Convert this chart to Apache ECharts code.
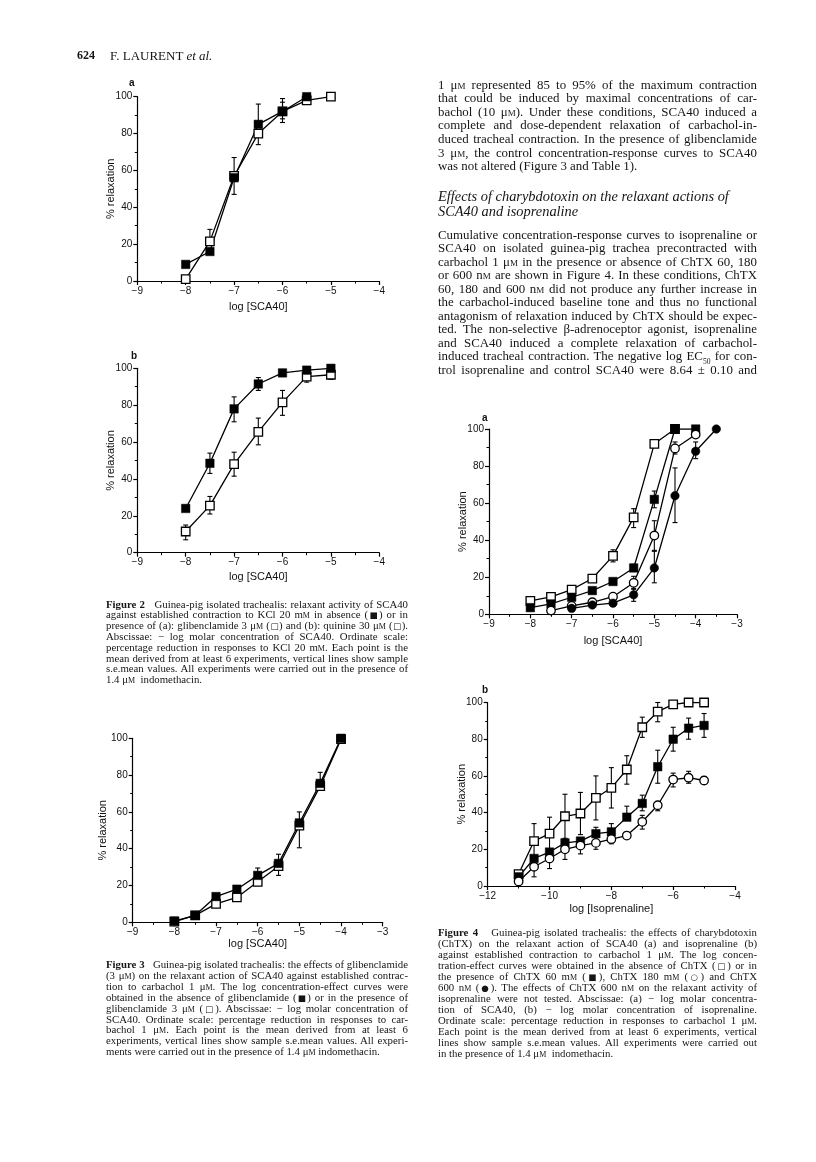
<!DOCTYPE html>
<html><head><meta charset="utf-8">
<script src="https://cdn.jsdelivr.net/npm/echarts@6/dist/echarts.min.js"></script>
<style>
html,body{margin:0;padding:0;background:#fff;}
#page{position:relative;width:816px;height:1162px;overflow:hidden;background:#fff;}
#chart{position:absolute;left:0;top:0;width:816px;height:1162px;}
.t{position:absolute;font-family:"Liberation Serif","DejaVu Serif",serif;color:#151515;white-space:nowrap;}
.j{text-align:justify;text-align-last:justify;}
.sc{font-variant:small-caps;}
.g{font-family:"DejaVu Sans",sans-serif;font-size:0.8em;}
</style></head><body>
<div id="page"><div id="chart"></div><div id="text"></div></div>
<script>
// ---------- DATA ----------
// Figure 2a
const x2 = [-8, -7.5, -7, -6.5, -6, -5.5, -5];
const f2a_ctrl = [9, 16, 56, 85, 92, 100, null];
const f2a_ctrl_hi = [null, null, null, 96, 97, null, null];
const f2a_ctrl_lo = [null, null, null, null, 88, null, null];
const f2a_glib = [1, 21.5, 57, 80, 92, 98, 100];
const f2a_glib_hi = [null, 28, 67, null, 99, null, null];
const f2a_glib_lo = [null, null, 47, 74, 86, null, null];
// Figure 2b
const f2b_ctrl = [24, 48.5, 78, 91.5, 97.5, 99, 100];
const f2b_ctrl_hi = [null, 54, 84.5, 95, null, null, null];
const f2b_ctrl_lo = [null, 43, 71, 88, null, null, null];
const f2b_quin = [11.5, 25.5, 48, 65.5, 81.5, 95.5, 96.5];
const f2b_quin_hi = [15, 30.5, 54.5, 73, 88, null, null];
const f2b_quin_lo = [7, 21, 41.5, 58.5, 74.5, 92.5, 94];
// Figure 3
const x3 = [-8, -7.5, -7, -6.5, -6, -5.5, -5, -4.5, -4];
const f3_ctrl = [0.7, 3.8, 14, 18, 25.5, 32, 54, 75.5, 100];
const f3_ctrl_hi = [null, null, null, null, 29.5, 37, 60, 81.5, null];
const f3_glib = [0.4, 3.8, 10, 13.5, 22, 30.5, 52.5, 74, 99.5];
const f3_glib_lo = [null, null, null, null, null, 25.5, 40.5, null, null];
// Figure 4a
const x4a = [-8, -7.5, -7, -6.5, -6, -5.5, -5, -4.5, -4, -3.5];
const f4a_ctrl = [7.2, 9.4, 13.3, 19.3, 31.5, 52.3, 92, 100, null, null];
const f4a_ctrl_hi = [null, null, null, null, 34.8, 57, 94, null, null, null];
const f4a_ctrl_lo = [null, null, null, null, 28.3, 46.8, null, null, null, null];
const f4a_ch60 = [3.6, 5.6, 9.2, 12.8, 17.7, 25, 62, 100, 100, null];
const f4a_ch60_hi = [null, null, null, null, null, 27, 66.5, null, null, null];
const f4a_ch60_lo = [null, null, null, null, null, null, 57.5, null, null, null];
const f4a_ch180 = [null, 2, 4.5, 6.5, 9.5, 17, 42.5, 89.5, 97, null];
const f4a_ch180_hi = [null, null, null, null, null, 20.5, 50.5, 93, null, null];
const f4a_ch180_lo = [null, null, null, null, null, 13.5, 34.5, 86.5, null, null];
const f4a_ch600 = [null, null, 3.2, 5, 6, 10.5, 25, 64, 88, 100];
const f4a_ch600_hi = [null, null, null, null, null, 14, 34, 79, 93, null];
const f4a_ch600_lo = [null, null, null, null, null, 7, 17, 49.5, 84, null];
// Figure 4b
const x4b = [-11, -10.5, -10, -9.5, -9, -8.5, -8, -7.5, -7, -6.5, -6, -5.5, -5];
const f4b_ctrl = [6.5, 24.5, 28.5, 38, 39.5, 48, 53.5, 63.5, 86.5, 95, 99, 100, 100];
const f4b_ctrl_hi = [null, 34, 37.5, 50, 51, 60, 64.5, 71, 92, 100, null, null, null];
const f4b_ctrl_lo = [null, 15, 19, 26, 28, 36, 42.5, 55.5, 81, 89.5, null, null, null];
const f4b_ch60 = [5, 15, 18.5, 23.5, 24.5, 28.5, 29.5, 37.5, 45, 65, 80, 86, 87.5];
const f4b_ch60_hi = [null, null, null, null, null, 32, 34, 43.5, 49.5, 74, 86.5, 91.5, 94];
const f4b_ch60_lo = [null, null, null, null, null, null, null, null, 41, 56, 73.5, 80, 81];
const f4b_ch180 = [2.5, 10.5, 15, 20, 22, 23.5, 25.5, 27.5, 35, 44, 58, 59, 57.5];
const f4b_ch180_hi = [null, null, null, null, null, null, null, null, 38.5, null, 61.5, 62.5, 59.5];
const f4b_ch180_lo = [null, 5, 9.5, 14.5, 17.5, 20, 23, null, 31, 41, 54, 56, 55.5];

// ---------- HELPERS ----------
const FONT = '"Liberation Sans", Arial, sans-serif';
function fmt(v){ return String(v).replace('-', '\u2212'); }
function xAx(gi, min, max, interval, name, gap){
  return {type:'value', gridIndex:gi, min:min, max:max, interval:interval,
    name:name, nameLocation:'middle', nameGap:gap, nameMoveOverlap:false,
    nameTextStyle:{fontFamily:FONT, fontSize:11, color:'#111'},
    axisLine:{show:true, onZero:false, lineStyle:{color:'#000', width:1.2}},
    axisTick:{show:true, length:4, lineStyle:{color:'#000', width:1.2}},
    minorTick:{show:true, splitNumber:2, length:2.5, lineStyle:{color:'#000', width:1}},
    splitLine:{show:false}, minorSplitLine:{show:false},
    axisLabel:{fontFamily:FONT, fontSize:10, color:'#111', margin:5, formatter:fmt}};
}
function yAx(gi, gap){
  return {type:'value', gridIndex:gi, min:0, max:100, interval:20,
    name:'% relaxation', nameLocation:'middle', nameGap:gap, nameRotate:90, nameMoveOverlap:false,
    nameTextStyle:{fontFamily:FONT, fontSize:11, color:'#111'},
    axisLine:{show:true, onZero:false, lineStyle:{color:'#000', width:1.2}},
    axisTick:{show:true, length:4, lineStyle:{color:'#000', width:1.2}},
    minorTick:{show:true, splitNumber:2, length:2.5, lineStyle:{color:'#000', width:1}},
    splitLine:{show:false}, minorSplitLine:{show:false},
    axisLabel:{fontFamily:FONT, fontSize:10, color:'#111', margin:5, formatter:fmt}};
}
function line(gi, xs, ys, sym, filled){
  return {type:'line', xAxisIndex:gi, yAxisIndex:gi, silent:true, z:3,
    data: xs.map((x,i)=>[x, ys[i]]).filter(d=>d[1]!=null),
    symbol:sym, symbolSize:8.5, showAllSymbol:true,
    lineStyle:{color:'#000', width:1.3},
    itemStyle:{color: filled?'#000':'#fff', borderColor:'#000', borderWidth: filled?0.5:1.3, opacity:1},
    emphasis:{disabled:true}};
}
function errData(xs, ys, hi, lo){
  const out=[];
  xs.forEach((x,i)=>{
    const h = hi ? hi[i] : null, l = lo ? lo[i] : null;
    if (h==null && l==null) return;
    out.push([x, l!=null?l:ys[i], h!=null?h:ys[i], l!=null?1:0, h!=null?1:0]);
  });
  return out;
}
function err(gi, xs, ys, hi, lo){
  return {type:'custom', xAxisIndex:gi, yAxisIndex:gi, silent:true, z:2,
    data: errData(xs, ys, hi, lo), encode:{x:0, y:[1,2]},
    renderItem:function(params, api){
      const x=api.value(0), lo=api.value(1), hi=api.value(2);
      const a=api.coord([x,lo]), b=api.coord([x,hi]);
      const st={stroke:'#000', lineWidth:1.1};
      const ch=[{type:'line', shape:{x1:a[0],y1:a[1],x2:b[0],y2:b[1]}, style:st}];
      if (api.value(3)) ch.push({type:'line', shape:{x1:a[0]-2.5,y1:a[1],x2:a[0]+2.5,y2:a[1]}, style:st});
      if (api.value(4)) ch.push({type:'line', shape:{x1:b[0]-2.5,y1:b[1],x2:b[0]+2.5,y2:b[1]}, style:st});
      return {type:'group', children:ch};
    }};
}

// ---------- CHART ----------
const chart = echarts.init(document.getElementById('chart'), null, {renderer:'canvas', width:816, height:1162});
const option = {
  animation:false,
  backgroundColor:'transparent',
  grid:[
    {left:137.3, top:96.7, width:242, height:184.3, outerBoundsMode:'none'},
    {left:137.3, top:368.3, width:242, height:184.4, outerBoundsMode:'none'},
    {left:132.7, top:738.3, width:250, height:184, outerBoundsMode:'none'},
    {left:489, top:429, width:248, height:185.3, outerBoundsMode:'none'},
    {left:487.7, top:702.5, width:247.3, height:183.5, outerBoundsMode:'none'}
  ],
  xAxis:[
    xAx(0, -9, -4, 1, 'log [SCA40]', 20),
    xAx(1, -9, -4, 1, 'log [SCA40]', 18.5),
    xAx(2, -9, -3, 1, 'log [SCA40]', 16),
    xAx(3, -9, -3, 1, 'log [SCA40]', 21),
    xAx(4, -12, -4, 2, 'log [Isoprenaline]', 17.5)
  ],
  yAxis:[yAx(0, 21), yAx(1, 21), yAx(2, 24), yAx(3, 21), yAx(4, 20)],
  graphic:[
    {type:'text', left:129, top:78, style:{text:'a', font:'bold 10px "Liberation Sans"', fill:'#111'}},
    {type:'text', left:131, top:351, style:{text:'b', font:'bold 10px "Liberation Sans"', fill:'#111'}},
    {type:'text', left:482, top:413, style:{text:'a', font:'bold 10px "Liberation Sans"', fill:'#111'}},
    {type:'text', left:482, top:685, style:{text:'b', font:'bold 10px "Liberation Sans"', fill:'#111'}}
  ],
  series:[
    err(0, x2, f2a_glib, f2a_glib_hi, f2a_glib_lo),
    err(0, x2, f2a_ctrl, f2a_ctrl_hi, f2a_ctrl_lo),
    line(0, x2, f2a_glib, 'rect', false),
    line(0, x2, f2a_ctrl, 'rect', true),

    err(1, x2, f2b_quin, f2b_quin_hi, f2b_quin_lo),
    err(1, x2, f2b_ctrl, f2b_ctrl_hi, f2b_ctrl_lo),
    line(1, x2, f2b_quin, 'rect', false),
    line(1, x2, f2b_ctrl, 'rect', true),

    err(2, x3, f3_glib, null, f3_glib_lo),
    err(2, x3, f3_ctrl, f3_ctrl_hi, null),
    line(2, x3, f3_glib, 'rect', false),
    line(2, x3, f3_ctrl, 'rect', true),

    err(3, x4a, f4a_ctrl, f4a_ctrl_hi, f4a_ctrl_lo),
    err(3, x4a, f4a_ch60, f4a_ch60_hi, f4a_ch60_lo),
    err(3, x4a, f4a_ch180, f4a_ch180_hi, f4a_ch180_lo),
    err(3, x4a, f4a_ch600, f4a_ch600_hi, f4a_ch600_lo),
    line(3, x4a, f4a_ctrl, 'rect', false),
    line(3, x4a, f4a_ch60, 'rect', true),
    line(3, x4a, f4a_ch180, 'circle', false),
    line(3, x4a, f4a_ch600, 'circle', true),

    err(4, x4b, f4b_ctrl, f4b_ctrl_hi, f4b_ctrl_lo),
    err(4, x4b, f4b_ch60, f4b_ch60_hi, f4b_ch60_lo),
    err(4, x4b, f4b_ch180, f4b_ch180_hi, f4b_ch180_lo),
    line(4, x4b, f4b_ctrl, 'rect', false),
    line(4, x4b, f4b_ch60, 'rect', true),
    line(4, x4b, f4b_ch180, 'circle', false)
  ]
};
chart.setOption(option);

// ---------- TEXT ----------
const M = 'μ<span class="sc">m</span>';
const mm = 'm<span class="sc">m</span>';
const nm = 'n<span class="sc">m</span>';
const FS = '<span class="g">■</span>', OS = '<span class="g">□</span>', OC = '<span class="g">○</span>', FC = '<span class="g">●</span>';

const para1 = [
  `1 ${M} represented 85 to 95% of the maximum contraction`,
  `that could be induced by maximal concentrations of car-`,
  `bachol (10 ${M}). Under these conditions, SCA40 induced a`,
  `complete and dose-dependent relaxation of carbachol-in-`,
  `duced tracheal contraction. In the presence of glibenclamide`,
  `3 ${M}, the control concentration-response curves to SCA40`,
  `was not altered (Figure 3 and Table 1).`
];
const heading = [
  `Effects of charybdotoxin on the relaxant actions of`,
  `SCA40 and isoprenaline`
];
const para2 = [
  `Cumulative concentration-response curves to isoprenaline or`,
  `SCA40 on isolated guinea-pig trachea precontracted with`,
  `carbachol 1 ${M} in the presence or absence of ChTX 60, 180`,
  `or 600 ${nm} are shown in Figure 4. In these conditions, ChTX`,
  `60, 180 and 600 ${nm} did not produce any further increase in`,
  `the carbachol-induced baseline tone and thus no functional`,
  `antagonism of relaxation induced by ChTX should be expec-`,
  `ted. The non-selective β-adrenoceptor agonist, isoprenaline`,
  `and SCA40 induced a complete relaxation of carbachol-`,
  `induced tracheal contraction. The negative log EC<sub style="font-size:7.5px;line-height:0">50</sub> for con-`,
  `trol isoprenaline and control SCA40 were 8.64 ± 0.10 and`
];
const cap2 = [
  `<b>Figure 2</b>&nbsp;&nbsp; Guinea-pig isolated trachealis: relaxant activity of SCA40`,
  `against established contraction to KCl 20 ${mm} in absence (${FS}) or in`,
  `presence of (a): glibenclamide 3 ${M} (${OS}) and (b): quinine 30 ${M} (${OS}).`,
  `Abscissae: − log molar concentration of SCA40. Ordinate scale:`,
  `percentage reduction in responses to KCl 20 ${mm}. Each point is the`,
  `mean derived from at least 6 experiments, vertical lines show sample`,
  `s.e.mean values. All experiments were carried out in the presence of`,
  `1.4 ${M}&nbsp; indomethacin.`
];
const cap3 = [
  `<b>Figure 3</b>&nbsp;&nbsp; Guinea-pig isolated trachealis: the effects of glibenclamide`,
  `(3 ${M}) on the relaxant action of SCA40 against established contrac-`,
  `tion to carbachol 1 ${M}. The log concentration-effect curves were`,
  `obtained in the absence of glibenclamide (${FS}) or in the presence of`,
  `glibenclamide 3 ${M} (${OS}). Abscissae: − log molar concentration of`,
  `SCA40. Ordinate scale: percentage reduction in responses to car-`,
  `bachol 1 ${M}. Each point is the mean derived from at least 6`,
  `experiments, vertical lines show sample s.e.mean values. All experi-`,
  `ments were carried out in the presence of 1.4 ${M} indomethacin.`
];
const cap4 = [
  `<b>Figure 4</b>&nbsp;&nbsp; Guinea-pig isolated trachealis: the effects of charybdotoxin`,
  `(ChTX) on the relaxant action of SCA40 (a) and isoprenaline (b)`,
  `against established contraction to carbachol 1 ${M}. The log concen-`,
  `tration-effect curves were obtained in the absence of ChTX (${OS}) or in`,
  `the presence of ChTX 60 ${mm} (${FS}), ChTX 180 ${mm} (${OC}) and ChTX`,
  `600 ${nm} (${FC}). The effects of ChTX 600 ${nm} on the relaxant activity of`,
  `isoprenaline were not tested. Abscissae: (a) − log molar concentra-`,
  `tion of SCA40, (b) − log molar concentration of isoprenaline.`,
  `Ordinate scale: percentage reduction in responses to carbachol 1 ${M}.`,
  `Each point is the mean derived from at least 6 experiments, vertical`,
  `lines show sample s.e.mean values. All experiments were carried out`,
  `in the presence of 1.4 ${M}&nbsp; indomethacin.`
];

const holder = document.getElementById('text');
function block(lines, left, width, y0, dy, fs, lastJustify, extra, noJustify){
  lines.forEach((h, i)=>{
    const d = document.createElement('div');
    const lh = Math.round(fs*1.3);
    const justify = !noJustify && ((i < lines.length-1) || lastJustify);
    d.className = 't' + (justify ? ' j' : '');
    d.style.left = left + 'px';
    d.style.width = width + 'px';
    d.style.top = (y0 + dy*i - lh/2) + 'px';
    d.style.fontSize = fs + 'px';
    d.style.lineHeight = lh + 'px';
    if (extra) d.style.cssText += extra;
    d.innerHTML = h;
    holder.appendChild(d);
  });
}
// header
block(['<b>624</b>'], 77, 30, 55, 0, 12, false);
block(['F. LAURENT <i>et al.</i>'], 110, 200, 55, 0, 13, false);
// right column
block(para1, 438, 319, 85, 13.6, 12.9, false);
block(heading, 438, 319, 196.5, 15, 14.4, false, 'font-style:italic;', true);
block(para2, 438, 319, 235, 13.5, 12.9, true);
// captions
block(cap2, 106, 302, 603.5, 10.8, 10.8, false);
block(cap3, 106, 302, 964, 10.9, 10.8, false);
block(cap4, 438, 319, 932, 11, 10.8, false);
</script>
</body></html>
